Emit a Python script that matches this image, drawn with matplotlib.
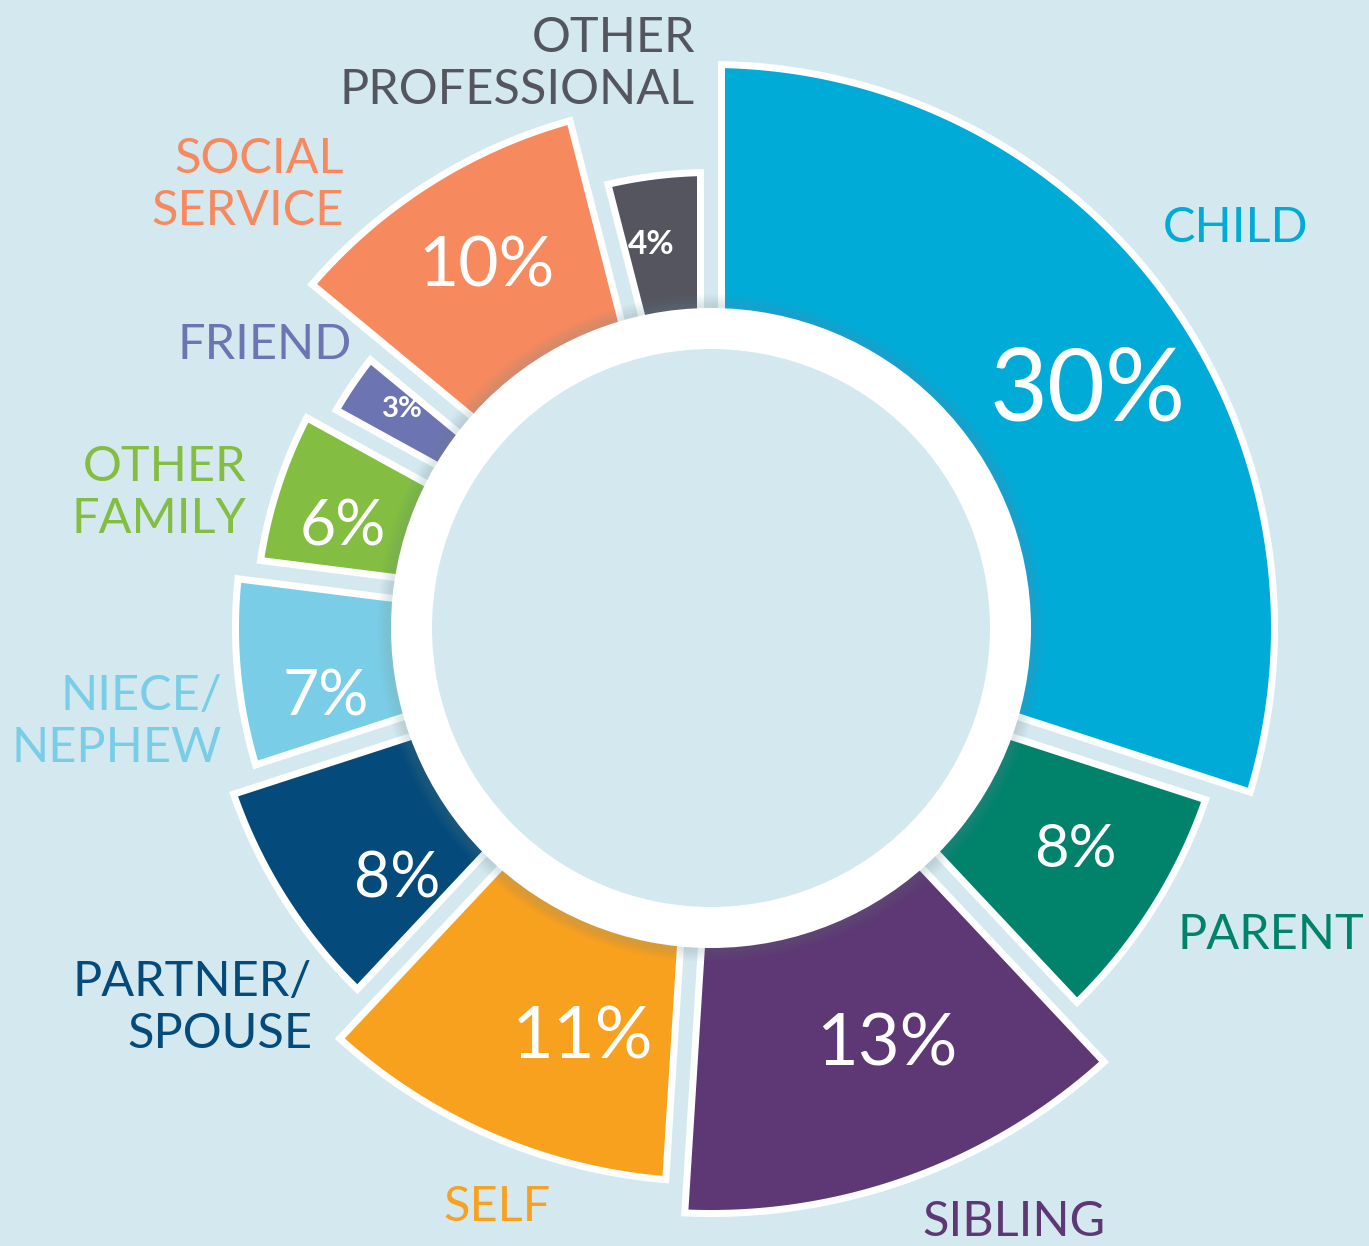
import numpy as np
import matplotlib
matplotlib.use("Agg")
import matplotlib.pyplot as plt
from matplotlib.patches import Polygon, Circle

# ---------------- data ----------------
categories = ["CHILD", "PARENT", "SIBLING", "SELF", "PARTNER/\nSPOUSE",
              "NIECE/\nNEPHEW", "OTHER\nFAMILY", "FRIEND", "SOCIAL\nSERVICE",
              "OTHER\nPROFESSIONAL"]
values = [30, 8, 13, 11, 8, 7, 6, 3, 10, 4]
pct_labels = ["30%", "8%", "13%", "11%", "8%", "7%", "6%", "3%", "10%", "4%"]

# ---------------- style ----------------
colors = ["#00ACD7", "#00826B", "#5D3874", "#F7A11F", "#044B7B",
          "#79CDE7", "#83BD41", "#6C75B2", "#F6895E", "#55555F"]
outer_r = [560, 520, 582, 550, 502, 472, 452, 430, 523, 452]
pct_size = [72, 43, 52, 52, 45, 45, 45, 21, 50, 24]
pct_weight = ["normal"] * 7 + ["bold", "normal", "bold"]
bg = "#D3E9EF"
W, H = 1369, 1246
cx, cy = 711, 628

# label placement (pixel coords)
cat_pos = [(1163, 228, "left"), (1178, 935, "left"), (1014, 1222, "center"),
           (497, 1207, "center"), (312, 1008, "right"), (222, 722, "right"),
           (246, 493, "right"), (352, 345, "right"), (344, 185, "right"),
           (695, 64, "right")]
pct_pos = [(1088, 392), (1075, 850), (887, 1045), (582, 1038), (397, 880),
           (326, 697), (343, 527), (402, 409), (486, 267), (651, 245)]

fig = plt.figure(figsize=(W / 100, H / 100), dpi=100)
fig.patch.set_facecolor(bg)
ax = fig.add_axes([0, 0, 1, 1])
ax.set_xlim(0, W)
ax.set_ylim(H, 0)
ax.set_facecolor(bg)
ax.axis("off")


def wedge_poly(a1, a2, R, rin, g):
    """a1 < a2 angles in degrees (math convention), edges offset inward by g."""
    o1 = np.degrees(np.arcsin(g / R))
    i1 = np.degrees(np.arcsin(g / rin))
    to = np.radians(np.linspace(a1 + o1, a2 - o1, 200))
    ti = np.radians(np.linspace(a2 - i1, a1 + i1, 60))
    xs = np.concatenate([cx + R * np.cos(to), cx + rin * np.cos(ti)])
    ys = np.concatenate([cy - R * np.sin(to), cy - rin * np.sin(ti)])
    return np.column_stack([xs, ys])


total = float(sum(values))
start = 90.0
for i, v in enumerate(values):
    span = 360.0 * v / total
    a2 = start
    a1 = start - span
    start = a1
    ax.add_patch(Polygon(wedge_poly(a1, a2, outer_r[i] + 7, 230, 7),
                         closed=True, facecolor="white", edgecolor="none", zorder=2))
    ax.add_patch(Polygon(wedge_poly(a1, a2, outer_r[i], 230, 14),
                         closed=True, facecolor=colors[i], edgecolor="none", zorder=3))

# soft shadow around ring
for k in range(12):
    ax.add_patch(Circle((cx, cy), 320 + 14 - k, facecolor="#7a9aa5",
                        edgecolor="none", alpha=0.018, zorder=4))
ax.add_patch(Circle((cx, cy), 320, facecolor="white", edgecolor="none", zorder=5))
ax.add_patch(Circle((cx, cy), 279, facecolor=bg, edgecolor="none", zorder=6))

for i, (x, y, ha) in enumerate(cat_pos):
    ax.text(x, y, categories[i], color=colors[i], fontsize=35, ha=ha,
            va="center", family="Lato", linespacing=1.2, zorder=7)

for i, (x, y) in enumerate(pct_pos):
    ax.text(x, y, pct_labels[i], color="white", fontsize=pct_size[i],
            ha="center", va="center", family="Lato", weight=pct_weight[i],
            zorder=7)

fig.savefig("out.png", dpi=100, facecolor=bg)
